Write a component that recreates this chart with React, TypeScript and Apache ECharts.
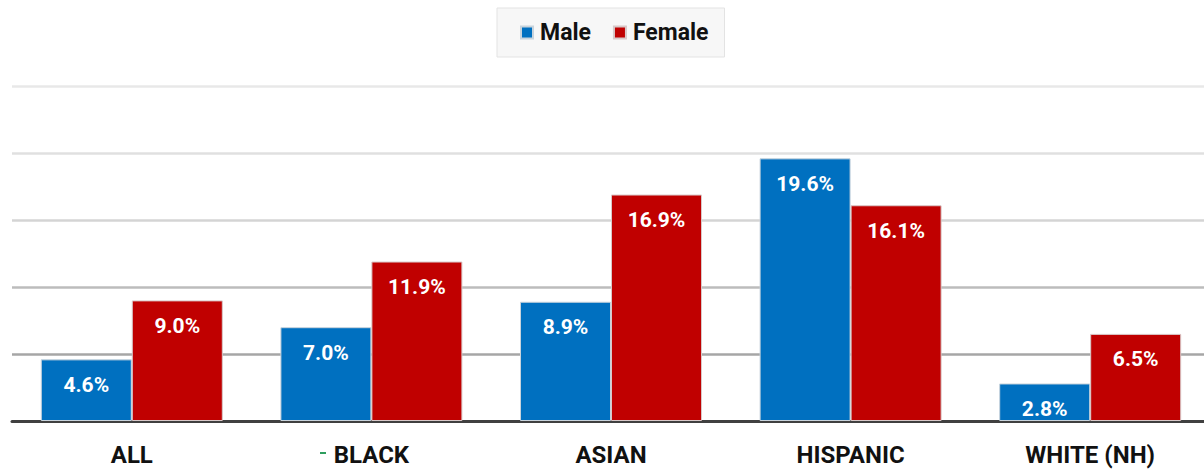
import React, { useEffect, useRef } from "react";
import * as echarts from "echarts";

// Rates by group and sex, in percent
const categories = ["ALL", "BLACK", "ASIAN", "HISPANIC", "WHITE (NH)"];
const maleValues = [4.6, 7.0, 8.9, 19.6, 2.8];
const femaleValues = [9.0, 11.9, 16.9, 16.1, 6.5];
const seriesNames = ["Male", "Female"];

const FONT = "Roboto, 'Liberation Sans', sans-serif";

export default function App() {
  const ref = useRef<HTMLDivElement>(null);

  useEffect(() => {
    if (!ref.current) return;
    const chart = echarts.init(ref.current, null, { renderer: "svg" });

    const label = {
      show: true,
      position: "insideTop" as const,
      distance: 15,
      color: "#ffffff",
      fontFamily: FONT,
      fontWeight: "bold" as const,
      fontSize: 21,
      formatter: (p: any) => `${Number(p.value).toFixed(1)}%`,
    };

    chart.setOption({
      animation: false,
      backgroundColor: "#ffffff",
      legend: {
        top: 8,
        left: 497,
        data: seriesNames,
        icon: "rect",
        itemWidth: 12,
        itemHeight: 12,
        itemGap: 22,
        padding: [13, 16, 13, 23],
        backgroundColor: "#f7f7f7",
        borderColor: "#e3e3e3",
        borderWidth: 1,
        textStyle: {
          fontFamily: FONT,
          fontWeight: "bold",
          fontSize: 23,
          color: "#111111",
          padding: [0, 0, 0, 2],
        },
      },
      graphic: [
        {
          type: "rect",
          shape: { x: 320, y: 452, width: 6, height: 2 },
          style: { fill: "#2e9e5e" },
        },
      ],
      grid: { left: 12, right: 6, top: 86, bottom: 48, containLabel: false },
      xAxis: {
        type: "category",
        data: categories,
        axisTick: { show: false },
        axisLine: { lineStyle: { color: "#404040", width: 3 } },
        axisLabel: {
          margin: 22,
          color: "#111111",
          fontFamily: FONT,
          fontWeight: "bold",
          fontSize: 24,
        },
      },
      yAxis: {
        type: "value",
        min: 0,
        max: 25,
        interval: 5,
        axisLabel: { show: false },
        axisLine: { show: false },
        axisTick: { show: false },
        splitLine: {
          lineStyle: {
            width: 2.5,
            color: ["#404040", "#a6a6a6", "#bcbcbc", "#d4d4d4", "#e0e0e0", "#e8e8e8"],
          },
        },
      },
      series: [
        {
          name: seriesNames[0],
          type: "bar",
          data: maleValues,
          barWidth: 91,
          barGap: "0%",
          itemStyle: { color: "#0070c0", borderColor: "#c8d3dc", borderWidth: 1 },
          label,
        },
        {
          name: seriesNames[1],
          type: "bar",
          data: femaleValues,
          barWidth: 91,
          itemStyle: { color: "#c00000", borderColor: "#d8c8c8", borderWidth: 1 },
          label,
        },
      ],
    });

    return () => chart.dispose();
  }, []);

  // The chart is a little wider than the frame; its right edge is clipped.
  return (
    <div
      style={{
        position: "absolute",
        left: 0,
        top: 0,
        width: 1204,
        height: 469,
        overflow: "hidden",
      }}
    >
      <div ref={ref} style={{ width: 1216, height: 469 }} />
    </div>
  );
}
